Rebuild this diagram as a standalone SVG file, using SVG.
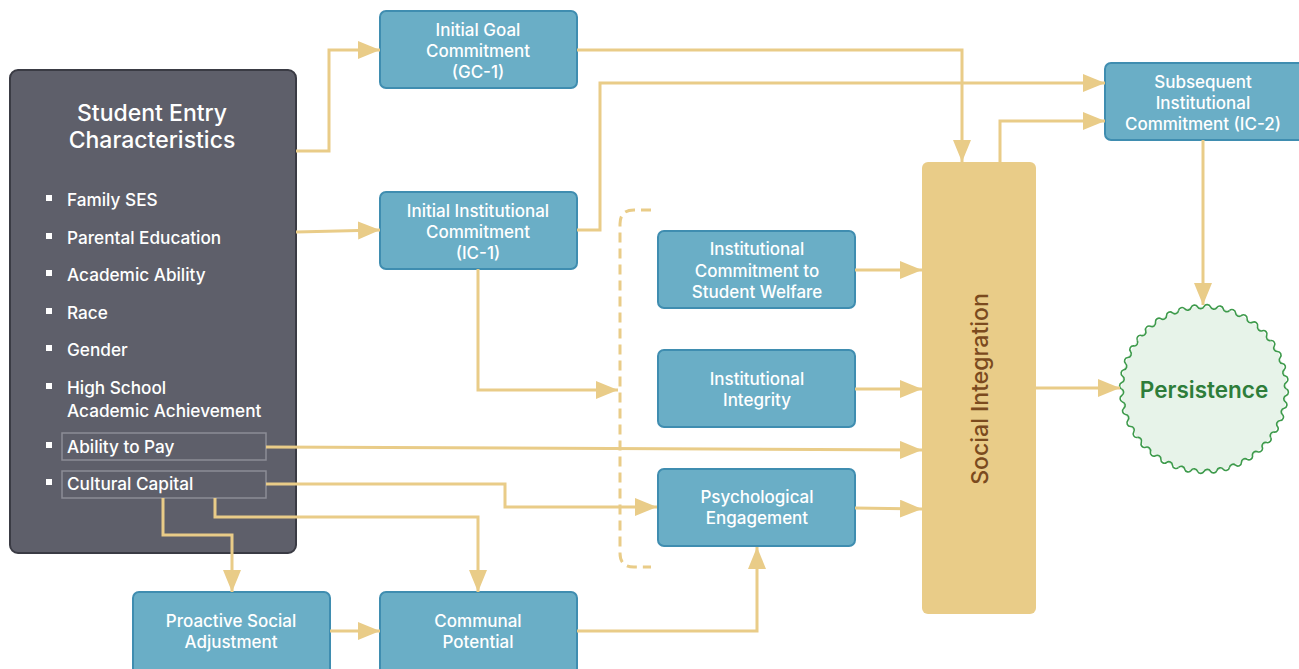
<svg xmlns="http://www.w3.org/2000/svg" xmlns:xlink="http://www.w3.org/1999/xlink" width="1299" height="669" viewBox="0 0 1299 669">
<style>
.node rect.b{fill:#6aaec6;stroke:#3f8db0;stroke-width:2}
.node text{font-family:Inter,"Liberation Sans",sans-serif;font-size:17px;font-weight:500;fill:#ffffff;text-anchor:middle}
.list text{font-family:Inter,"Liberation Sans",sans-serif;font-size:17.2px;font-weight:500;fill:#ffffff}
.bul{fill:#ffffff}
.conn path{fill:none;stroke:#e9cc88;stroke-width:3}
.hl{fill:none;stroke:#8c8d96;stroke-width:1.5}
</style>
<defs>
<marker id="ah" markerUnits="userSpaceOnUse" markerWidth="22" markerHeight="18" refX="22" refY="9" orient="auto">
<path d="M0,0 L22,9 L0,18 z" fill="#e9cc88"/>
</marker>
<path id="wv" d="M82.5,0 A3.6,3.6 0 0 1 82.25,6.47 A3.6,3.6 0 0 0 81.48,12.91 A3.6,3.6 0 0 1 80.22,19.26 A3.6,3.6 0 0 0 78.46,25.49 A3.6,3.6 0 0 1 76.22,31.57 A3.6,3.6 0 0 0 73.51,37.45 A3.6,3.6 0 0 1 70.34,43.11 A3.6,3.6 0 0 0 66.74,48.49" fill="none" stroke="#3d9a4b" stroke-width="1.6"/>
</defs>
<rect width="1299" height="669" fill="#ffffff"/>

<g id="student-entry">
<rect x="10" y="70" width="286" height="483" rx="8" fill="#5e5f6a" stroke="#3a3b44" stroke-width="2"/>
<text x="152" y="121" font-family="Inter,'Liberation Sans',sans-serif" font-size="23" font-weight="500" fill="#ffffff" text-anchor="middle">Student Entry</text>
<text x="152" y="148" font-family="Inter,'Liberation Sans',sans-serif" font-size="23" font-weight="500" fill="#ffffff" text-anchor="middle">Characteristics</text>
<g class="list">
<rect class="bul" x="46" y="195" width="6" height="6"/><text x="67" y="206">Family SES</text>
<rect class="bul" x="46" y="233" width="6" height="6"/><text x="67" y="244">Parental Education</text>
<rect class="bul" x="46" y="270" width="6" height="6"/><text x="67" y="281">Academic Ability</text>
<rect class="bul" x="46" y="308" width="6" height="6"/><text x="67" y="319">Race</text>
<rect class="bul" x="46" y="345" width="6" height="6"/><text x="67" y="356">Gender</text>
<rect class="bul" x="46" y="383" width="6" height="6"/><text x="67" y="394">High School</text>
<text x="67" y="417">Academic Achievement</text>
<rect class="hl" x="62" y="433" width="204" height="27"/>
<rect class="bul" x="46" y="442" width="6" height="6"/><text x="67" y="453">Ability to Pay</text>
<rect class="hl" x="62" y="471" width="204" height="27"/>
<rect class="bul" x="46" y="479" width="6" height="6"/><text x="67" y="490">Cultural Capital</text>
</g>
</g>

<g id="gc1" class="node">
<rect class="b" x="380" y="11" width="197" height="77" rx="6"/>
<text x="478" y="36">Initial Goal</text>
<text x="478" y="57">Commitment</text>
<text x="478" y="78">(GC-1)</text>
</g>

<g id="ic1" class="node">
<rect class="b" x="380" y="192" width="197" height="77" rx="6"/>
<text x="478" y="217">Initial Institutional</text>
<text x="478" y="238">Commitment</text>
<text x="478" y="259">(IC-1)</text>
</g>

<g id="icsw" class="node">
<rect class="b" x="658" y="231" width="197" height="77" rx="6"/>
<text x="757" y="255">Institutional</text>
<text x="757" y="277">Commitment to</text>
<text x="757" y="298">Student Welfare</text>
</g>

<g id="ii" class="node">
<rect class="b" x="658" y="350" width="197" height="77" rx="6"/>
<text x="757" y="385">Institutional</text>
<text x="757" y="406">Integrity</text>
</g>

<g id="pe" class="node">
<rect class="b" x="658" y="469" width="197" height="77" rx="6"/>
<text x="757" y="503">Psychological</text>
<text x="757" y="524">Engagement</text>
</g>

<g id="ic2" class="node">
<rect class="b" x="1105" y="63" width="200" height="77" rx="6"/>
<text x="1203" y="88">Subsequent</text>
<text x="1203" y="109">Institutional</text>
<text x="1203" y="130">Commitment (IC-2)</text>
</g>

<g id="psa" class="node">
<rect class="b" x="133" y="592" width="197" height="85" rx="6"/>
<text x="231" y="627">Proactive Social</text>
<text x="231" y="648">Adjustment</text>
</g>

<g id="cp" class="node">
<rect class="b" x="380" y="592" width="197" height="85" rx="6"/>
<text x="478" y="627">Communal</text>
<text x="478" y="648">Potential</text>
</g>

<g id="social-integration">
<rect x="922" y="162" width="114" height="452" rx="6" fill="#e9cc88"/>
<text transform="translate(988,389) rotate(-90)" font-family="Inter,'Liberation Sans',sans-serif" font-size="23" font-weight="500" fill="#7b4a1e" text-anchor="middle">Social Integration</text>
</g>

<g id="persistence">
<circle cx="1204" cy="389" r="82.5" fill="#e7f3e9"/>
<g transform="translate(1204,389)">
<use xlink:href="#wv"/>
<use xlink:href="#wv" transform="rotate(36)"/>
<use xlink:href="#wv" transform="rotate(72)"/>
<use xlink:href="#wv" transform="rotate(108)"/>
<use xlink:href="#wv" transform="rotate(144)"/>
<use xlink:href="#wv" transform="rotate(180)"/>
<use xlink:href="#wv" transform="rotate(216)"/>
<use xlink:href="#wv" transform="rotate(252)"/>
<use xlink:href="#wv" transform="rotate(288)"/>
<use xlink:href="#wv" transform="rotate(324)"/>
</g>
<text x="1204" y="398" font-family="Inter,'Liberation Sans',sans-serif" font-size="22.5" font-weight="600" fill="#2e7d3a" text-anchor="middle">Persistence</text>
</g>

<g id="connectors" class="conn">
<path d="M296,151 H329 V50 H380" marker-end="url(#ah)"/>
<path d="M296,232 L380,230" marker-end="url(#ah)"/>
<path d="M577,50 H962 V162" marker-end="url(#ah)"/>
<path d="M577,230 H600 V83 H1105" marker-end="url(#ah)"/>
<path d="M1000,162 V121 H1105" marker-end="url(#ah)"/>
<path d="M1203,140 V305" marker-end="url(#ah)"/>
<path d="M1036,388 H1120" marker-end="url(#ah)"/>
<path d="M478,269 V390 H618" marker-end="url(#ah)"/>
<path d="M855,270 H922" marker-end="url(#ah)"/>
<path d="M855,389 H922" marker-end="url(#ah)"/>
<path d="M266,447 L922,450" marker-end="url(#ah)"/>
<path d="M855,508 L922,509" marker-end="url(#ah)"/>
<path d="M266,484 H505 V507 H657" marker-end="url(#ah)"/>
<path d="M215,498 V517 H478 V592" marker-end="url(#ah)"/>
<path d="M163,498 V535 H232 V592" marker-end="url(#ah)"/>
<path d="M330,631 H380" marker-end="url(#ah)"/>
<path d="M577,631 H757 V547" marker-end="url(#ah)"/>
<path d="M651,210 H634 Q620,210 620,224 V553 Q620,567 634,567 H651" stroke-dasharray="10 6"/>
</g>
</svg>
